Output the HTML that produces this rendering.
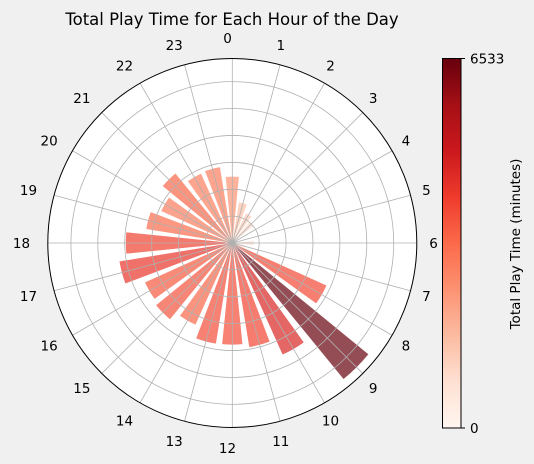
<!DOCTYPE html>
<html><head><meta charset="utf-8"><style>
body{margin:0;background:#f0f0f0;}
svg{display:block;font-family:"DejaVu Sans","Liberation Sans",sans-serif;}
</style></head><body>
<svg id="chart" width="534" height="464" viewBox="0 0 534 464">
<rect width="534" height="464" fill="#f0f0f0"/>
<text x="232" y="25" font-size="16.5" text-anchor="middle" fill="#000">Total Play Time for Each Hour of the Day</text>
<g id="polar"></g>
<g id="cbar"></g>
</svg>
<script>
const hours = [0,1,2,3,4,5,6,7,8,9,10,11,12,13,14,15,16,17,18,19,20,21,22,23];
const playTime = [2470,1530,1220,1000,300,200,800,500,3840,6533,4550,3920,3780,3790,3330,3660,3560,4250,3960,3240,2900,3340,2830,2860];
const gridValues = [1000,2000,3000,4000,5000,6000];
const cbarTicks = [0,6533];

const NS="http://www.w3.org/2000/svg";
const cx=232.3, cy=243, R=184.5;
const vmax=Math.max(...playTime);
const rmax=vmax*1.05;
function rScale(v){return v/rmax*R;}
function aScale(h){return h/24*2*Math.PI;}
function pt(a,r){return [cx+r*Math.sin(a), cy-r*Math.cos(a)];}
const stops=[[255,245,240],[254,224,210],[252,187,161],[252,146,114],[251,106,74],[239,59,44],[203,24,29],[165,15,21],[103,0,13]];
function reds(t){t=Math.max(0,Math.min(1,t));const p=t*8,i=Math.min(7,Math.floor(p)),f=p-i;
 return stops[i].map((c,k)=>Math.round(c+(stops[i+1][k]-c)*f));}
function mk(tag,attrs,parent){const e=document.createElementNS(NS,tag);for(const k in attrs)e.setAttribute(k,attrs[k]);parent.appendChild(e);return e;}
const g=document.getElementById('polar');
const bg=mk('circle',{cx:cx,cy:cy,r:R,fill:'#fff'},g);


const bw=0.2;
hours.forEach((h,i)=>{
 const a=aScale(h), r=rScale(playTime[i]);
 const p1=pt(a-bw/2,r), p2=pt(a+bw/2,r);
 const c=reds(playTime[i]/vmax);
 const b=mk('path',{d:`M${cx},${cy}L${p1[0]},${p1[1]}A${r},${r} 0 0 1 ${p2[0]},${p2[1]}Z`,fill:`rgb(${c.join(',')})`,'fill-opacity':0.7},g);
 
 
});
gridValues.forEach(v=>{
 const c=mk('circle',{cx:cx,cy:cy,r:rScale(v),fill:'none',stroke:'#b0b0b0','stroke-width':0.8},g);
 
 
});
hours.forEach(h=>{
 const a=aScale(h);
 const p=pt(a,R);
 const l=mk('line',{x1:cx,y1:cy,x2:p[0],y2:p[1],stroke:'#b0b0b0','stroke-width':0.8},g);
 
 
 const tx=227.5+206*Math.sin(a), ty=243-205*Math.cos(a);
 const t=mk('text',{x:tx,y:ty+5,'font-size':13.5,'text-anchor':'middle',fill:'#000'},g);
 t.textContent=h;
 
 
});
const oc=mk('circle',{cx:cx,cy:cy,r:R,fill:'none',stroke:'#000','stroke-width':1},g);


const cb=document.getElementById('cbar');
const x0=442.5,x1=461,y0=58.5,y1=428;
const defs=mk('defs',{},cb);
const lg=mk('linearGradient',{id:'cg',x1:0,y1:1,x2:0,y2:0},defs);
for(let i=0;i<=16;i++){const c=reds(i/16);mk('stop',{offset:i/16,'stop-color':`rgb(${c.join(',')})`},lg);}
const cr=mk('rect',{x:x0,y:y0,width:x1-x0,height:y1-y0,fill:'url(#cg)',stroke:'#000','stroke-width':1},cb);


cbarTicks.forEach(v=>{
 const y=y1-(v/vmax)*(y1-y0);
 mk('line',{x1:x1,y1:y,x2:x1+4,y2:y,stroke:'#000','stroke-width':1},cb);
 const t=mk('text',{x:x1+9,y:y+5,'font-size':13.5,fill:'#000'},cb);
 t.textContent=v;
 
 
});
const lab=mk('text',{x:0,y:0,'font-size':13.5,'text-anchor':'middle',fill:'#000',transform:'translate(520,244) rotate(-90)'},cb);
lab.textContent='Total Play Time (minutes)';


</script>
</body></html>
